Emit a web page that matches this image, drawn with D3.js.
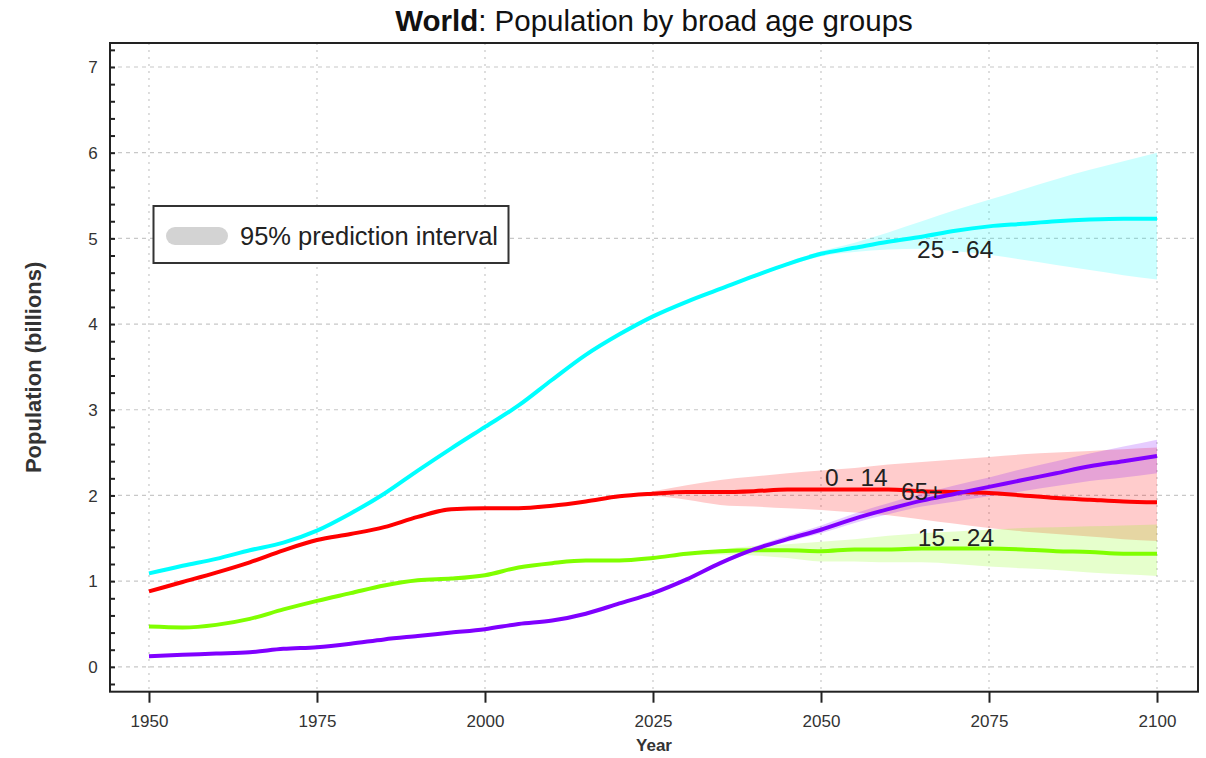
<!DOCTYPE html>
<html>
<head>
<meta charset="utf-8">
<script src="https://cdn.jsdelivr.net/npm/d3@7"></script>
<style>
  html, body { margin: 0; padding: 0; background: #fff; }
  svg { display: block; font-family: "Liberation Sans", Arial, sans-serif; }
</style>
</head>
<body>
<svg id="chart" width="1206" height="758"></svg>
<script>
// ---------------- data ----------------
const years = d3.range(1950, 2101, 5);
const age0_14  = [0.88,0.99,1.10,1.22,1.36,1.48,1.55,1.63,1.75,1.84,1.85,1.85,1.88,1.93,1.99,2.02,2.04,2.04,2.05,2.07,2.07,2.07,2.07,2.05,2.04,2.03,2.00,1.97,1.95,1.93,1.92];
const age15_24 = [0.47,0.46,0.49,0.56,0.67,0.77,0.86,0.95,1.01,1.03,1.07,1.16,1.21,1.24,1.24,1.27,1.32,1.35,1.36,1.36,1.35,1.37,1.37,1.38,1.38,1.38,1.37,1.35,1.34,1.32,1.32];
const age25_64 = [1.09,1.18,1.26,1.36,1.45,1.59,1.79,2.02,2.29,2.55,2.80,3.05,3.35,3.64,3.88,4.09,4.26,4.41,4.56,4.70,4.82,4.89,4.96,5.02,5.09,5.14,5.17,5.20,5.22,5.23,5.23];
const age65    = [0.125,0.14,0.155,0.17,0.21,0.23,0.27,0.32,0.36,0.40,0.44,0.50,0.54,0.62,0.74,0.86,1.02,1.21,1.37,1.49,1.60,1.73,1.84,1.94,2.02,2.10,2.18,2.26,2.34,2.40,2.46];

// 95% prediction intervals (projection years)
const projYears = d3.range(2020, 2101, 5);
const lo0_14  = [1.99,1.99,1.95,1.89,1.87,1.85,1.83,1.80,1.77,1.72,1.67,1.62,1.58,1.55,1.52,1.49,1.47];
const hi0_14  = [1.99,2.05,2.12,2.18,2.22,2.26,2.29,2.32,2.36,2.39,2.42,2.45,2.48,2.50,2.52,2.54,2.56];
const lo15_24 = [1.24,1.26,1.30,1.31,1.30,1.27,1.23,1.23,1.22,1.22,1.20,1.17,1.15,1.13,1.10,1.08,1.06];
const hi15_24 = [1.24,1.28,1.33,1.37,1.41,1.43,1.46,1.49,1.53,1.56,1.58,1.60,1.62,1.63,1.64,1.65,1.66];
const lo25_64 = [3.88,4.09,4.26,4.40,4.54,4.68,4.79,4.84,4.87,4.88,4.85,4.81,4.75,4.69,4.63,4.57,4.52];
const hi25_64 = [3.88,4.09,4.26,4.42,4.58,4.72,4.85,4.95,5.07,5.20,5.33,5.45,5.57,5.69,5.80,5.90,6.00];
const lo65    = [0.74,0.86,1.01,1.19,1.35,1.46,1.56,1.68,1.78,1.87,1.93,1.99,2.05,2.11,2.17,2.21,2.26];
const hi65    = [0.74,0.86,1.03,1.23,1.40,1.53,1.65,1.79,1.91,2.02,2.12,2.21,2.31,2.40,2.49,2.57,2.65];

const groupNames = ["0 - 14", "15 - 24", "25 - 64", "65+"];
const groupColors = ["#ff0000", "#80ff00", "#00ffff", "#8000ff"];
// label anchors (year, value) for in-plot labels
const labelYears  = [2050.6, 2064.4, 2064.3, 2061.9];
const labelValues = [2.11, 1.415, 4.77, 1.95];

const xTicks = [1950, 1975, 2000, 2025, 2050, 2075, 2100];
const yTicks = [0, 1, 2, 3, 4, 5, 6, 7];

const titleBold = "World";
const titleRest = ": Population by broad age groups";
const xTitle = "Year";
const yTitle = "Population (billions)";
const legendLabel = "95% prediction interval";

// ---------------- layout ----------------
const L = 110, R = 1198, T = 43, B = 691.7;
const svg = d3.select("#chart");
const x = d3.scaleLinear().domain([1944.2, 2106.1]).range([L, R]);
const y = d3.scaleLinear().domain([-0.29, 7.28]).range([B, T]);

// grid
const grid = svg.append("g");
grid.selectAll("line.h").data(yTicks).enter().append("line")
  .attr("x1", L).attr("x2", R).attr("y1", d => y(d)).attr("y2", d => y(d))
  .attr("stroke", "#c8c8c8").attr("stroke-width", 1.2).attr("stroke-dasharray", "4,4");
grid.selectAll("line.v").data(xTicks).enter().append("line")
  .attr("y1", T).attr("y2", B).attr("x1", d => x(d)).attr("x2", d => x(d))
  .attr("stroke", "#c8c8c8").attr("stroke-width", 1.2).attr("stroke-dasharray", "2,5");

// bands
const series = [age0_14, age15_24, age25_64, age65];
const los = [lo0_14, lo15_24, lo25_64, lo65];
const his = [hi0_14, hi15_24, hi25_64, hi65];
const area = d3.area().curve(d3.curveMonotoneX).x(d => x(d.yr)).y0(d => y(d.lo)).y1(d => y(d.hi));
[2, 0, 1, 3].forEach(i => {
  const pts = projYears.map((yr, k) => ({yr, lo: los[i][k], hi: his[i][k]}));
  svg.append("path").attr("d", area(pts))
    .attr("fill", groupColors[i]).attr("fill-opacity", 0.2);
});

// lines
const line = d3.line().curve(d3.curveMonotoneX).x(d => x(d.yr)).y(d => y(d.v));
[0, 1, 2, 3].forEach(i => {
  const pts = years.map((yr, k) => ({yr, v: series[i][k]}));
  svg.append("path").attr("d", line(pts))
    .attr("fill", "none").attr("stroke", groupColors[i]).attr("stroke-width", 4)
    .attr("stroke-linejoin", "round");
});

// labels
groupNames.forEach((n, i) => {
  svg.append("text").attr("x", x(labelYears[i])).attr("y", y(labelValues[i]))
    .attr("font-size", 24.5).attr("fill", "#222").text(n);
});

// frame
svg.append("rect").attr("x", L).attr("y", T).attr("width", R - L).attr("height", B - T)
  .attr("fill", "none").attr("stroke", "#222").attr("stroke-width", 2);

// y axis: inward ticks
const yAxis = d3.axisRight(y).tickValues(d3.range(-0.2, 7.21, 0.2).map(v => Math.round(v * 10) / 10))
  .tickSize(5).tickFormat("");
svg.append("g").attr("transform", `translate(${L},0)`).call(yAxis)
  .call(g => g.select(".domain").remove())
  .call(g => g.selectAll("line").attr("stroke", "#222").attr("stroke-width", 2));
svg.append("g").selectAll("text").data(yTicks).enter().append("text")
  .attr("x", 93).attr("y", d => y(d)).attr("dy", "0.36em").attr("text-anchor", "middle")
  .attr("font-size", 17).attr("fill", "#333").text(d => d);

// x axis: outward ticks
const xAxis = d3.axisBottom(x).tickValues(xTicks).tickSize(11).tickPadding(12).tickFormat(d3.format("d"));
svg.append("g").attr("transform", `translate(0,${B})`).call(xAxis)
  .call(g => g.select(".domain").remove())
  .call(g => g.selectAll("line").attr("stroke", "#222").attr("stroke-width", 2))
  .call(g => g.selectAll("text").attr("font-size", 17).attr("fill", "#333")
    .attr("font-family", "'Liberation Sans', Arial, sans-serif"));

// axis titles
svg.append("text").attr("x", (L + R) / 2).attr("y", 751).attr("text-anchor", "middle")
  .attr("font-size", 17).attr("font-weight", "bold").attr("fill", "#333").text(xTitle);
svg.append("text").attr("transform", `translate(41,${(T + B) / 2}) rotate(-90)`)
  .attr("text-anchor", "middle").attr("font-size", 22).attr("font-weight", "bold")
  .attr("fill", "#333").text(yTitle);

// title
const tt = svg.append("text").attr("x", (L + R) / 2).attr("y", 31).attr("text-anchor", "middle")
  .attr("font-size", 29.5).attr("fill", "#111");
tt.append("tspan").attr("font-weight", "bold").text(titleBold);
tt.append("tspan").text(titleRest);

// legend
svg.append("rect").attr("x", 153.5).attr("y", 206).attr("width", 355).attr("height", 57)
  .attr("fill", "#fff").attr("stroke", "#333").attr("stroke-width", 2);
svg.append("rect").attr("x", 166).attr("y", 227).attr("width", 62).attr("height", 18)
  .attr("rx", 9).attr("fill", "#d3d3d3");
svg.append("text").attr("x", 240).attr("y", 245).attr("font-size", 25.5).attr("fill", "#222")
  .text(legendLabel);
</script>
</body>
</html>
